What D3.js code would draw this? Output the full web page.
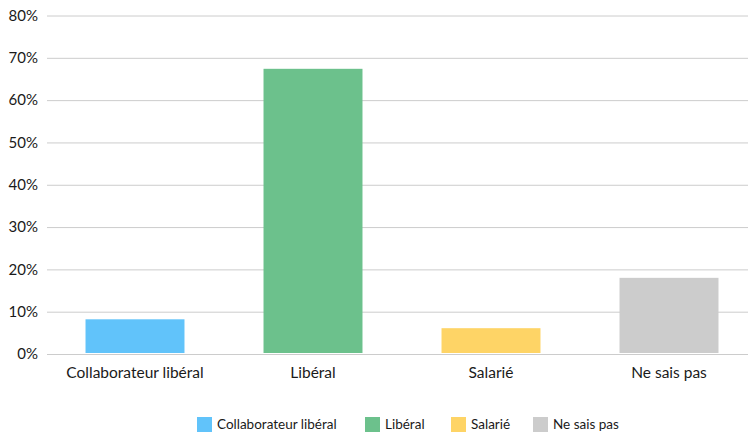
<!DOCTYPE html>
<html><head><meta charset="utf-8">
<script src="https://cdn.jsdelivr.net/npm/d3@7"></script>
<style>body{margin:0;background:#fff}svg{display:block}text{font-family:Lato,"Noto Sans",sans-serif;fill:#1a1a1a}</style>
</head><body><svg id="c" width="748" height="434"></svg>
<script>
const categories = ["Collaborateur libéral","Libéral","Salarié","Ne sais pas"];
const values = [0.082, 0.674, 0.061, 0.18];
const colors = ["#61c3fa","#6cc18c","#fed466","#cccccc"];
const yTicks = [0,0.1,0.2,0.3,0.4,0.5,0.6,0.7,0.8];

const svg = d3.select("#c");
const W = 748;
const x = d3.scaleBand().domain(categories).range([46, 758]).paddingInner(0.444).paddingOuter(0.222);
const y = d3.scaleLinear().domain([0,0.8]).range([354, 15.5]);

const yAxis = svg.append("g").attr("transform","translate(47,0)")
  .call(d3.axisLeft(y).tickValues(yTicks).tickFormat(d3.format(".0%")).tickSize(-(W-47)).tickPadding(9));
yAxis.select(".domain").remove();
yAxis.selectAll(".tick line").attr("stroke","#cccccc").attr("stroke-width",1);
yAxis.selectAll(".tick text").attr("font-size",15).style("font-family","Lato,'Noto Sans',sans-serif").attr("fill","#1a1a1a");

svg.append("g").selectAll("rect").data(categories).join("rect")
  .attr("x", d=>x(d)).attr("width", x.bandwidth())
  .attr("y", (d,i)=>y(values[i])).attr("height",(d,i)=>353-y(values[i]))
  .attr("fill",(d,i)=>colors[i]);

const xAxis = svg.append("g").attr("transform","translate(0,354)")
  .call(d3.axisBottom(x).tickSize(0).tickPadding(13));
xAxis.select(".domain").remove();
xAxis.selectAll(".tick text").attr("font-size",15.5).style("font-family","Lato,'Noto Sans',sans-serif").attr("fill","#1a1a1a");

const legX = [197, 365, 451, 533];
const leg = svg.append("g").selectAll("g").data(categories).join("g")
  .attr("transform",(d,i)=>`translate(${legX[i]},417)`);
leg.append("rect").attr("width",15).attr("height",15).attr("fill",(d,i)=>colors[i]);
leg.append("text").attr("x",20).attr("y",12).attr("font-size",13.5).text(d=>d);
</script></body></html>
